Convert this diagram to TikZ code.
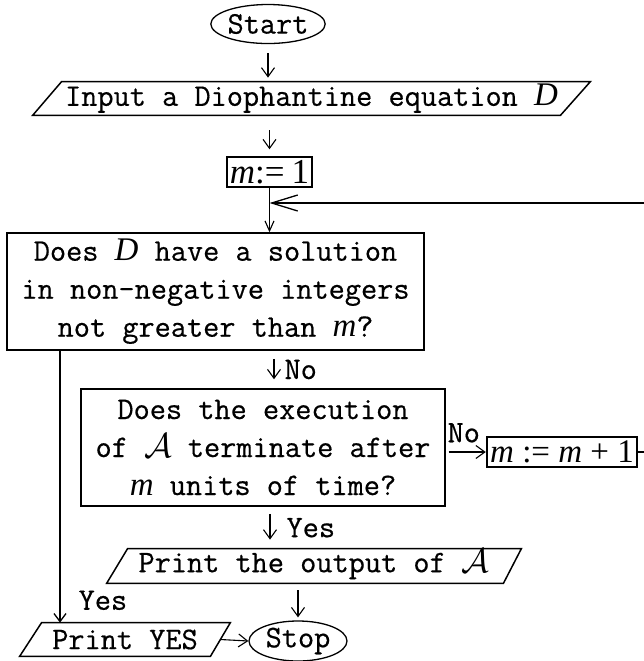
\documentclass[tikz,border=0pt]{standalone}
\usepackage{fontspec}
\setmonofont{Latin Modern Mono}[FakeBold=0.5]
\newfontfamily\tms{Liberation Serif}
\usetikzlibrary{arrows.meta,shapes.geometric,calc}
\newcommand\txtfont{\fontsize{15.7}{19}\selectfont\ttfamily}
\newcommand\vi[1]{{\tms\itshape #1}}
\newcommand\calA{{\fontsize{16}{19}\selectfont\smash{$\mathcal{A}$}}}
\begin{document}
\begin{tikzpicture}[x=0.5pt,y=-0.5pt,
  boxnode/.style={draw, line width=0.75pt, inner sep=0pt, align=center, font=\txtfont},
  paranode/.style={inner sep=0pt, align=center, font=\txtfont},
  paraline/.style={draw, line width=0.75pt, line join=miter},
  term/.style={ellipse, draw, line width=0.65pt, inner sep=0pt, font=\txtfont},
  lbl/.style={inner sep=0pt, font=\txtfont},
  arr/.style={line width=0.55pt, -{Straight Barb[length=4.5pt,width=6.5pt]}},
  arrmid/.style={line width=0.65pt, -{Straight Barb[length=4pt,width=6pt]}},
  arrbig/.style={line width=0.65pt, -{Straight Barb[length=13pt,width=8pt]}}]
\path[use as bounding box] (0,0) rectangle (644,661);
\clip (0,0) rectangle (644,661);

% nodes
\node[term, minimum width=56.5pt, minimum height=19.5pt] (start) at (268,24) {Start};

\node[paranode, minimum width=278.5pt, minimum height=16.5pt] (input) at (311.5,98.5)
  {Input a Diophantine equation {\fontsize{16.5}{19}\selectfont\vi{D}}};
\draw[paraline] ([xshift=14.5pt]input.north west) -- (input.north east)
  -- ([xshift=-15pt]input.south east) -- (input.south west) -- cycle;

\node[boxnode, minimum width=42.5pt, minimum height=15pt] (m1) at (269.5,172)
  {\fontsize{17.5}{17}\tms\selectfont \vi{m}:=\kern0.2em 1};

\node[boxnode, minimum width=208.5pt, minimum height=58.5pt] (b1) at (215.5,291.5)
  {Does {\fontsize{16.5}{19}\selectfont\vi{D}} have a solution\\in non-negative integers\\not greater than {\fontsize{16.5}{19}\selectfont\vi{m}?}};

\node[boxnode, minimum width=182pt, minimum height=58.5pt] (b2) at (263,447.5)
  {Does the execution\\of \calA{} terminate after\\{\fontsize{16.5}{19}\selectfont\vi{m}} units of time?};

\node[boxnode, line width=1.2pt, minimum width=75pt, minimum height=15pt] (m2) at (562,452)
  {\fontsize{16.5}{15}\tms\selectfont \vi{m} := \vi{m} + 1};

\node[paranode, minimum width=207pt, minimum height=17pt] (out) at (314,566)
  {Print the output of \calA};
\draw[paraline] ([xshift=10.5pt]out.north west) -- (out.north east)
  -- ([xshift=-9pt]out.south east) -- (out.south west) -- cycle;

\node[term, minimum width=49pt, minimum height=20pt] (stop) at (298,641) {Stop};

\node[paranode, minimum width=105pt, minimum height=16.5pt] (yes) at (125,639.5) {Print YES};
\draw[paraline] ([xshift=11pt]yes.north west) -- (yes.north east)
  -- ([xshift=-10pt]yes.south east) -- (yes.south west) -- cycle;

\coordinate (loopR) at (660,203);

% connectors
\draw[arr, shorten <=4.5pt, shorten >=2pt] (start.south) -- (start.south |- input.north);
\draw[arr, shorten <=7.5pt, shorten >=3.5pt] (m1.north |- input.south) -- (m1.north);
\draw[arr, -{Straight Barb[length=5pt,width=4.5pt]}] (m1.south) -- (m1.south |- b1.north);
\draw[arrbig] (m2.east) -- (m2.east -| loopR) -- (loopR) -- (m1.south |- loopR);

\draw[arr, shorten <=4pt, shorten >=4.5pt] ([xshift=5.5pt]b2.north |- b1.south) -- ([xshift=5.5pt]b2.north)
  node[lbl, midway, right=5pt] {No};
\draw[arr, shorten <=3.5pt, shorten >=4.5pt] ([xshift=3.5pt]b2.south) -- ([xshift=3.5pt]b2.south |- out.north)
  node[lbl, midway, right=8pt] {Yes};
\draw[arr, shorten <=1.5pt] (b2.east |- m2.west) -- (m2.west)
  node[lbl, midway, above=4.5pt, xshift=-1pt] {No};

\draw[arrmid] ([xshift=-32.5pt]yes.north |- b1.south) -- ([xshift=-32.5pt]yes.north)
  node[lbl, pos=1, anchor=south west, xshift=9pt, yshift=6pt] {Yes};

\draw[arr, shorten <=3.5pt, shorten >=1.5pt] (stop.north |- out.south) -- (stop.north);
\draw[arr] ([xshift=-5pt]yes.east) -- (stop.west);
\end{tikzpicture}
\end{document}
